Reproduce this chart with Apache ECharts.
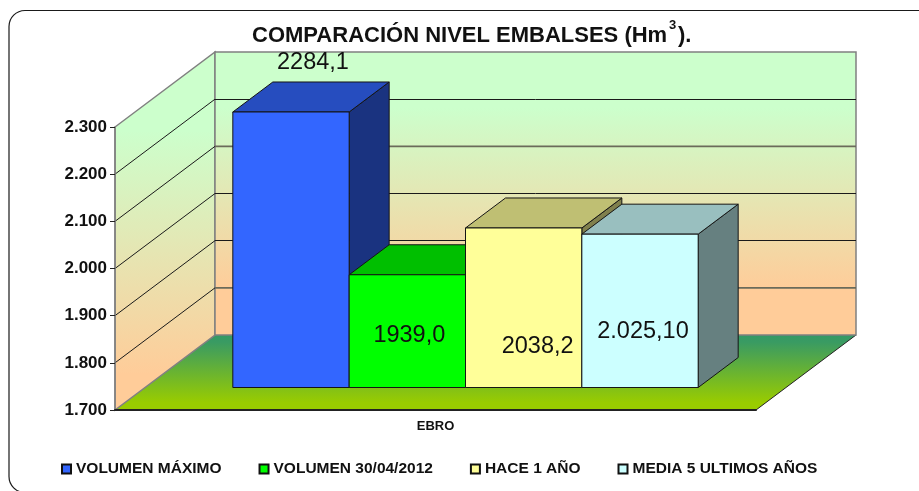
<!DOCTYPE html>
<html>
<head>
<meta charset="utf-8">
<title>Comparación nivel embalses</title>
<script src="https://cdn.jsdelivr.net/npm/echarts@6/dist/echarts.min.js"></script>
<style>
  html, body { margin: 0; padding: 0; background: #fff; }
  #chart { width: 919px; height: 491px; }
</style>
</head>
<body>
<div id="chart"></div>
<script>
const categories = ['EBRO'];
const yTicks = [1700, 1800, 1900, 2000, 2100, 2200, 2300];
const seriesNames = ['VOLUMEN MÁXIMO', 'VOLUMEN 30/04/2012', 'HACE 1 AÑO', 'MEDIA 5 ULTIMOS AÑOS'];
const seriesValues = [2284.1, 1939.0, 2038.2, 2025.1];
const valueLabels = ['2284,1', '1939,0', '2038,2', '2.025,10'];

const barColors = [[51, 102, 255], [0, 255, 0], [255, 255, 153], [204, 255, 255]];
// hand placed labels in the original, offset from the top middle of the front face
const labelOffsets = [[22, -49], [2, 61], [14, 119], [3, 97]];
// these two come out heavier and greyer on the back wall of the original
const heavyBackLines = [1800, 2100];

const FONT = '"Liberation Sans", Arial, sans-serif';
const WALL_DX = 100;
const WALL_DY = -75;
const BAR_START = 0.3; // where the bars stand on the floor depth
const BAR_DEPTH = 0.4;
const BARS_SHARE = 0.726; // part of the category band taken by the bars

function shade(rgb, k) {
  return 'rgb(' + rgb.map((c) => Math.round(c * k)).join(',') + ')';
}

function poly(points, fill, stroke, lineWidth) {
  return { type: 'polygon', shape: { points }, style: { fill, stroke, lineWidth: lineWidth || 0 } };
}

function wallGradient(from, to) {
  return new echarts.graphic.LinearGradient(0, 0, 0, 1, [
    { offset: 0, color: '#ccffcc' },
    { offset: from, color: '#ccffcc' },
    { offset: to, color: '#ffcc99' },
    { offset: 1, color: '#ffcc99' },
  ]);
}

function renderWalls(params) {
  const c = params.coordSys;
  const x0 = c.x;
  const x1 = c.x + c.width;
  const y0 = c.y + c.height;
  const y1 = c.y;
  const floorFill = new echarts.graphic.LinearGradient(0, 0, 0, 1, [
    { offset: 0, color: '#339966' },
    { offset: 0.1, color: '#3a9b62' },
    { offset: 0.9, color: '#99cc00' },
    { offset: 1, color: '#99cc00' },
  ]);

  return {
    type: 'group',
    children: [
      poly([[x0, y0], [x1, y0], [x1 + WALL_DX, y0 + WALL_DY], [x0 + WALL_DX, y0 + WALL_DY]], floorFill),
      {
        type: 'line',
        shape: { x1, y1: y0, x2: x1 + WALL_DX, y2: y0 + WALL_DY },
        style: { stroke: '#222', lineWidth: 1 },
      },
      poly(
        [[x0, y0], [x0, y1], [x0 + WALL_DX, y1 + WALL_DY], [x0 + WALL_DX, y0 + WALL_DY]],
        wallGradient(0.22, 0.9),
        '#808080',
        1.5
      ),
      poly(
        [[x0 + WALL_DX, y1 + WALL_DY], [x1 + WALL_DX, y1 + WALL_DY], [x1 + WALL_DX, y0 + WALL_DY], [x0 + WALL_DX, y0 + WALL_DY]],
        wallGradient(0.2, 0.84),
        '#808080',
        1.5
      ),
    ],
  };
}

function renderGridLine(params, api) {
  const c = params.coordSys;
  const y = api.coord([api.value(0), api.value(1)])[1];
  const backX = c.x + WALL_DX;
  const backY = y + WALL_DY;
  const heavy = heavyBackLines.includes(api.value(1));
  const lineY = heavy ? backY : Math.floor(backY) + 0.5;

  return {
    type: 'group',
    children: [
      {
        type: 'line',
        shape: { x1: c.x, y1: y, x2: backX, y2: backY },
        style: { stroke: '#1a1a1a', lineWidth: 1 },
      },
      {
        type: 'line',
        shape: { x1: backX, y1: lineY, x2: c.x + c.width + WALL_DX, y2: lineY },
        style: { stroke: heavy ? '#6b6b5a' : '#1a1a1a', lineWidth: heavy ? 1.8 : 1 },
      },
    ],
  };
}

function makeBarRenderer(index) {
  return function (params, api) {
    const band = api.size([1, 0])[0];
    const top = api.coord([api.value(0), api.value(1)]);
    const bottom = api.coord([api.value(0), yTicks[0]]);
    const w = (band * BARS_SHARE) / seriesValues.length;
    const startX = top[0] - (w * seriesValues.length) / 2 + WALL_DX * BAR_START;
    const x = startX + w * index;
    const yt = top[1] + WALL_DY * BAR_START;
    const yb = bottom[1] + WALL_DY * BAR_START;
    const dx = WALL_DX * BAR_DEPTH;
    const dy = WALL_DY * BAR_DEPTH;
    const rgb = barColors[index];
    const line = '#151515';

    return {
      type: 'group',
      children: [
        poly([[x + w, yb], [x + w, yt], [x + w + dx, yt + dy], [x + w + dx, yb + dy]], shade(rgb, 0.5), line, 1),
        poly([[x, yt], [x + dx, yt + dy], [x + w + dx, yt + dy], [x + w, yt]], shade(rgb, 0.75), line, 1),
        poly([[x, yb], [x, yt], [x + w, yt], [x + w, yb]], shade(rgb, 1), line, 1),
        {
          type: 'text',
          z2: 20,
          style: {
            text: valueLabels[index],
            x: x + w / 2 + labelOffsets[index][0],
            y: yt + labelOffsets[index][1],
            align: 'center',
            verticalAlign: 'middle',
            fill: '#111',
            fontSize: 23.5,
            fontFamily: FONT,
          },
        },
      ],
    };
  };
}

const barSeries = seriesNames.map((name, i) => ({
  name,
  type: 'custom',
  renderItem: makeBarRenderer(i),
  encode: { x: 0, y: 1 },
  itemStyle: { color: shade(barColors[i], 1), borderColor: '#111', borderWidth: 1 },
  data: [[categories[0], seriesValues[i]]],
  z: 4,
}));

const titleFont = { fontSize: 22, fontWeight: 'bold', fontFamily: FONT, color: '#111' };

const option = {
  animation: false,
  backgroundColor: '#fff',
  graphic: [
    {
      type: 'rect',
      z: -1,
      shape: { x: 9, y: 10.5, width: 930, height: 482, r: 16 },
      style: { fill: '#fff', stroke: '#1a1a1a', lineWidth: 1.2 },
    },
  ],
  // three pieces because of the raised 3 in Hm3
  title: [
    { text: 'COMPARACIÓN NIVEL EMBALSES (Hm', left: 252, top: 25, padding: 0, textStyle: titleFont },
    { text: '3', left: 669, top: 19, padding: 0, textStyle: { ...titleFont, fontSize: 13 } },
    { text: ').', left: 678, top: 25, padding: 0, textStyle: titleFont },
  ],
  legend: {
    left: 61,
    top: 461,
    padding: 0,
    data: seriesNames,
    icon: 'rect',
    itemWidth: 9,
    itemHeight: 9,
    itemGap: 37,
    textStyle: { fontSize: 15.5, fontWeight: 'bold', fontFamily: FONT, color: '#111' },
  },
  grid: { left: 115, right: 163, top: 127, bottom: 81 },
  xAxis: {
    type: 'category',
    data: categories,
    z: 5,
    axisLine: { lineStyle: { color: '#222', width: 2 } },
    axisTick: { length: 5, lineStyle: { color: '#222' } },
    axisLabel: { margin: 10, fontSize: 13, fontWeight: 'bold', fontFamily: FONT, color: '#111' },
    splitLine: { show: false },
  },
  yAxis: {
    type: 'value',
    min: yTicks[0],
    max: yTicks[yTicks.length - 1],
    interval: 100,
    z: 5,
    axisLine: { show: true, lineStyle: { color: '#808080', width: 1.5 } },
    axisTick: { show: true, length: 5, lineStyle: { color: '#222' } },
    axisLabel: {
      margin: 8,
      fontSize: 17,
      fontWeight: 'bold',
      fontFamily: FONT,
      color: '#111',
      formatter: (v) => String(v).replace(/(\d)(\d{3})$/, '$1.$2'),
    },
    splitLine: { show: false },
  },
  series: [
    {
      name: 'walls',
      type: 'custom',
      renderItem: renderWalls,
      encode: { x: 0, y: 1 },
      data: [[categories[0], yTicks[0]]],
      silent: true,
      z: 1,
    },
    {
      name: 'gridlines',
      type: 'custom',
      renderItem: renderGridLine,
      encode: { x: 0, y: 1 },
      data: yTicks.slice(1, -1).map((t) => [categories[0], t]),
      silent: true,
      z: 2,
    },
    ...barSeries,
  ],
};

const myChart = echarts.init(document.getElementById('chart'));
myChart.setOption(option);
</script>
</body>
</html>
